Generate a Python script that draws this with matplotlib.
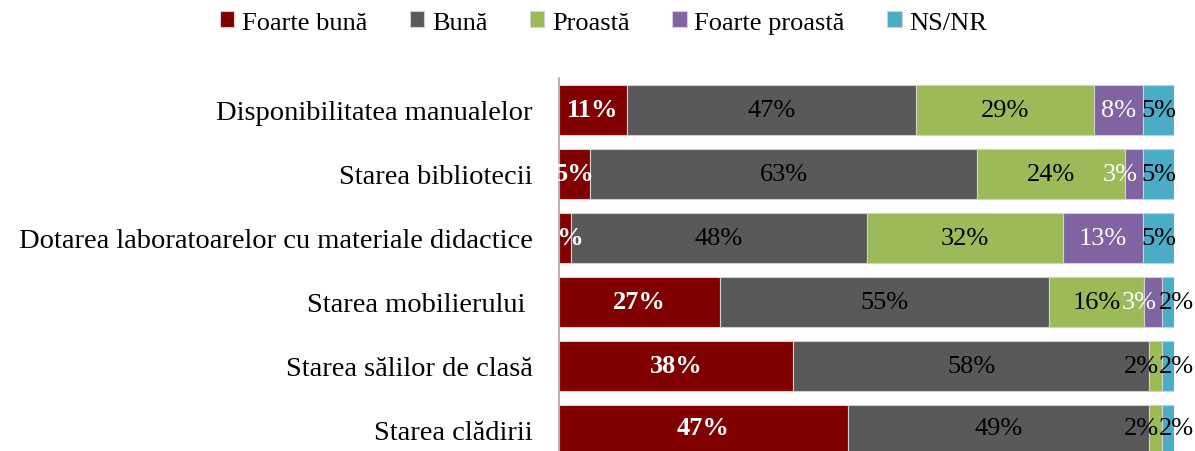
import numpy as np
import matplotlib
matplotlib.use('Agg')
import matplotlib.pyplot as plt

plt.rcParams['font.family'] = ['Liberation Serif', 'DejaVu Serif']

# date (%)
categorii = ['Disponibilitatea manualelor', 'Starea bibliotecii',
             'Dotarea laboratoarelor cu materiale didactice', 'Starea mobilierului ',
             'Starea sălilor de clasă', 'Starea clădirii']
serii = ['Foarte bună', 'Bună', 'Proastă', 'Foarte proastă', 'NS/NR']
foarte_buna = [11, 5, 2, 27, 38, 47]
buna = [47, 63, 48, 55, 58, 49]
proasta = [29, 24, 32, 16, 2, 2]
foarte_proasta = [8, 3, 13, 3, 0, 0]
ns_nr = [5, 5, 5, 2, 2, 2]

culori = ['#800000', '#595959', '#9BBB59', '#8064A2', '#4BACC6']
culori_text = ['white', 'black', 'black', 'white', 'black']
grosime = ['bold', 'normal', 'normal', 'normal', 'normal']

valori = np.array([foarte_buna, buna, proasta, foarte_proasta, ns_nr], dtype=float)
total = valori.sum(axis=0)
latimi = valori / total * 100  # grafic 100% stivuit

fig = plt.figure(figsize=(11.95, 4.52), dpi=100)
ax = fig.add_axes([559 / 1195, 0, (1174 - 559) / 1195, (452 - 79) / 452])

y = np.arange(len(categorii))
stanga = np.zeros(len(categorii))
ultima = len(serii) - 1
for i in range(len(serii)):
    bars = ax.barh(y, latimi[i], left=stanga, height=0.78, color=culori[i],
                   edgecolor='#d0d0d0', linewidth=0.8, label=serii[i])
    etichete = ['%d%%' % v if v > 0 else '' for v in valori[i]]
    txt = ax.bar_label(bars, labels=etichete, label_type='center', color=culori_text[i],
                       fontsize=19, fontweight=grosime[i])
    # etichetele mici se departeaza ca in Excel
    for j, t in enumerate(txt):
        v = valori[i][j]
        if 0 < i < ultima and v <= 3:
            t.xyann = (-10, 0)
        elif i == ultima and v <= 2:
            t.xyann = (6, 0)
    stanga += latimi[i]

ax.set_xlim(0, 100)
ax.set_ylim(5.33, -0.5)
ax.set_yticks(y)
ax.set_yticklabels(categorii, fontsize=20.5)
ax.tick_params(axis='y', length=0, pad=19)
ax.set_xticks([])
for s in ['top', 'right', 'bottom']:
    ax.spines[s].set_visible(False)
ax.spines['left'].set_color('#a6a6a6')
ax.spines['left'].set_linewidth(1.2)

fig.legend(loc='upper center', bbox_to_anchor=(0.505, 1.025), ncol=5, frameon=False,
           fontsize=19, handlelength=0.55, handleheight=0.55, handletextpad=0.3,
           columnspacing=1.6)

plt.savefig('out.png', dpi=100)
